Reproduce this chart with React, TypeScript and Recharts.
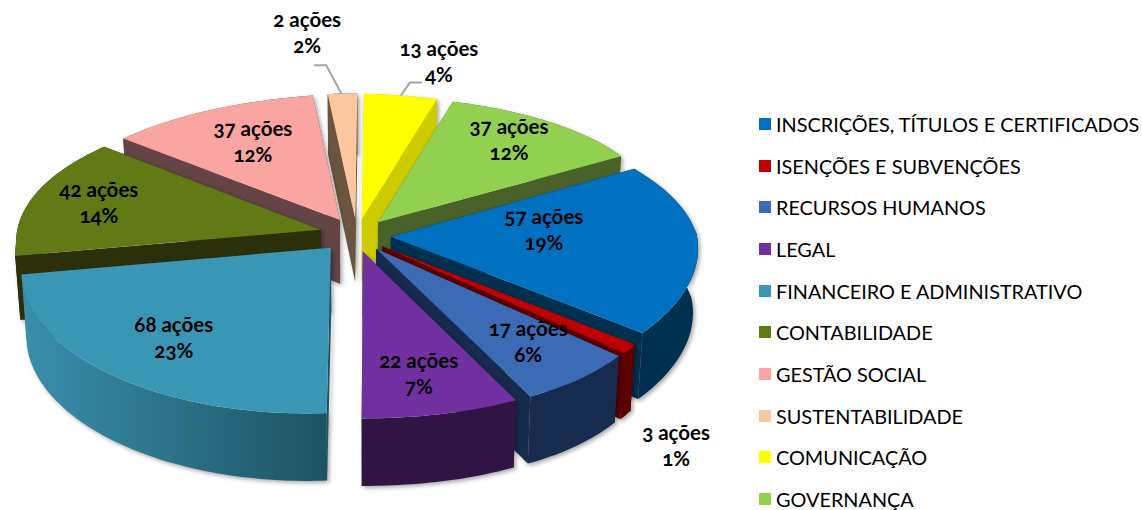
import { PieChart, Pie, Legend } from "recharts";

const categories = [
  "INSCRIÇÕES, TÍTULOS E CERTIFICADOS",
  "ISENÇÕES E SUBVENÇÕES",
  "RECURSOS HUMANOS",
  "LEGAL",
  "FINANCEIRO E ADMINISTRATIVO",
  "CONTABILIDADE",
  "GESTÃO SOCIAL",
  "SUSTENTABILIDADE",
  "COMUNICAÇÃO",
  "GOVERNANÇA",
];
const actions = [57, 3, 17, 22, 68, 42, 37, 2, 13, 37];
const percents = [19, 1, 6, 7, 23, 14, 12, 2, 4, 12];

const topColors = ["#0070c0", "#c00000", "#3c6bb6", "#7030a0", "#3a96b5", "#627a15", "#fba5a2", "#fcc79d", "#ffff00", "#92d050"];
const wallColors = ["#00304f", "#5c0000", "#172b4f", "#301443", "url(#finWall)", "#2b300a", "#644444", "#6b5540", "#cccc00", "#48622a"];
const edgeColors = ["#00304f", "#5c0000", "#172b4f", "#301443", "#1d5363", "#2b300a", "#644444", "#6b5540", "#cccc00", "#48622a"];

// walls are painted back to front
const wallOrder = [7, 8, 6, 9, 5, 0, 1, 2, 4, 3];

// label centre relative to the slice tip
const labelOffsets = [
  [153, -7], [294, 200], [152, 93], [56, 122], [-157, 90],
  [-222, -27], [-87, -78], [-48, -185], [77, -157], [131, -82],
];
// elbow lines for labels outside the pie
const leaders: Record<number, number[][]> = {
  7: [[-15, -28], [-27, -28]],
  8: [[9, -13], [21, -13]],
};

// horizontal rim correction by angle
const rimShift = [[0, 0], [28, -21], [72, -18], [88, -18], [95, -8], [136, 0]];

const data = categories.map((name, i) => ({
  name,
  value: percents[i],
  actions: actions[i],
  fill: topColors[i],
}));

const CX = 355;
const CY = 235;
const RADIUS = 305;
const EXPLODE = 36;
const TILT = 0.466;
const PERSP = 0.138;
const DEPTH = 64;
const RIM_LIFT = 4;
const START = 28.5;
const RAD = Math.PI / 180;
const FONT = "Lato, 'Noto Sans', sans-serif";

// the 3D view is not a clean ellipse: small corrections along the rim
function rimWarp(a: number) {
  const deg = ((a % 360) + 360) % 360;
  let dx = 0;
  let dy = 0;
  for (let i = 1; i < rimShift.length; i++) {
    const [a0, d0] = rimShift[i - 1];
    const [a1, d1] = rimShift[i];
    if (deg >= a0 && deg < a1) dx = d0 + ((d1 - d0) * (deg - a0)) / (a1 - a0);
  }
  if (deg > 270 && deg < 320) dx = 11 * Math.sin((deg - 270) * 3.6 * RAD);
  if (deg > 90 && deg < 270) dy = 13 * Math.sin((deg - 90) * RAD);
  return [dx, dy];
}

function project(cx: number, cy: number, r: number, a: number, mid: number, down = false) {
  const u = r * Math.cos(a * RAD) + EXPLODE * Math.cos(mid * RAD);
  const v = -(r * Math.sin(a * RAD) + EXPLODE * Math.sin(mid * RAD));
  const k = v / RADIUS;
  const s = 1 / (1 - PERSP * k);
  const sx = k > 0 ? 1 + 0.1 * k : 1 + 0.025 * k;
  const w = rimWarp(a);
  const t = r / RADIUS;
  const x = u * sx + w[0] * t;
  const y = v * TILT * s - RIM_LIFT * t + w[1] * t;
  if (!down) return [cx + x, cy + y];
  return [cx + x * 0.985, cy + y + DEPTH * (1 + 0.05 * k)];
}

function arcPoints(p: any, down: boolean) {
  const mid = (p.startAngle + p.endAngle) / 2;
  const n = Math.max(2, Math.ceil(Math.abs(p.startAngle - p.endAngle)));
  const pts: number[][] = [];
  for (let i = 0; i <= n; i++) {
    const a = p.startAngle + ((p.endAngle - p.startAngle) * i) / n;
    pts.push(project(p.cx, p.cy, p.outerRadius, a, mid, down));
  }
  return pts;
}

const toPath = (pts: number[][]) =>
  "M" + pts.map((q) => q[0].toFixed(1) + "," + q[1].toFixed(1)).join("L") + "Z";

function TopSlice(p: any) {
  const mid = (p.startAngle + p.endAngle) / 2;
  const apex = project(p.cx, p.cy, 0, 0, mid);
  return <path d={toPath([apex, ...arcPoints(p, false)])} fill={p.fill} />;
}

function WallSlice(p: any, k: number) {
  if (topColors.indexOf(p.fill) !== k) return <g />;
  const mid = (p.startAngle + p.endAngle) / 2;
  const apex = project(p.cx, p.cy, 0, 0, mid);
  const apexLow = project(p.cx, p.cy, 0, 0, mid, true);
  const top = arcPoints(p, false);
  const low = arcPoints(p, true);
  const edge = edgeColors[k];
  return (
    <g style={{ filter: "drop-shadow(2px 2px 2px rgba(0,0,0,0.35))" }}>
      <path d={toPath([apex, top[0], low[0], apexLow])} fill={edge} />
      <path d={toPath([apex, top[top.length - 1], low[low.length - 1], apexLow])} fill={edge} />
      <path d={toPath([...top, ...low.slice().reverse()])} fill={wallColors[k]} />
    </g>
  );
}

function SliceLabel(p: any) {
  const i = p.index;
  const mid = p.midAngle;
  const apex = project(p.cx, p.cy, 0, 0, mid);
  const x = apex[0] + labelOffsets[i][0];
  const y = apex[1] + labelOffsets[i][1];
  const rim = project(p.cx, p.cy, p.outerRadius, mid, mid);
  const elbows = leaders[i];
  const textStyle = { fontFamily: FONT, fontSize: 20.5, fontWeight: 700, fill: "#000", fontVariantNumeric: "oldstyle-nums" };
  return (
    <g>
      {elbows && (
        <polyline
          points={[rim, ...elbows.map((e) => [rim[0] + e[0], rim[1] + e[1]])].map((q) => q.join(",")).join(" ")}
          fill="none"
          stroke="#a6a6a6"
          strokeWidth={2}
        />
      )}
      <text x={x} y={y - 6} textAnchor="middle" style={textStyle}>
        {actions[i]} ações
      </text>
      <text x={x} y={y + 20} textAnchor="middle" style={textStyle}>
        {percents[i]}%
      </text>
    </g>
  );
}

function LegendList() {
  return (
    <div style={{ fontFamily: FONT, fontSize: 19.85, color: "#000" }}>
      {categories.map((c, i) => (
        <div key={c} style={{ height: 41.7, display: "flex", alignItems: "center", whiteSpace: "nowrap" }}>
          <span style={{ width: 12, height: 12, background: topColors[i], marginRight: 5 }} />
          {c}
        </div>
      ))}
    </div>
  );
}

export default function App() {
  return (
    <div style={{ position: "absolute", left: 0, top: 0, width: 1142, height: 510, overflow: "hidden" }}>
      <PieChart width={1142} height={510} margin={{ top: 0, right: 0, bottom: 0, left: 0 }}>
        <defs>
          <linearGradient id="finWall" x1="0" y1="0" x2="1" y2="0">
            <stop offset="0" stopColor="#3a8fad" />
            <stop offset="1" stopColor="#1d5363" />
          </linearGradient>
        </defs>
        {wallOrder.map((k) => (
          <Pie
            key={k}
            data={data}
            dataKey="value"
            nameKey="name"
            cx={CX}
            cy={CY}
            outerRadius={RADIUS}
            startAngle={START}
            endAngle={START - 360}
            stroke="none"
            legendType="none"
            isAnimationActive={false}
            shape={(p: any) => WallSlice(p, k)}
          />
        ))}
        <Pie
          data={data}
          dataKey="value"
          nameKey="name"
          cx={CX}
          cy={CY}
          outerRadius={RADIUS}
          startAngle={START}
          endAngle={START - 360}
          stroke="none"
          isAnimationActive={false}
          shape={TopSlice}
          label={SliceLabel}
          labelLine={false}
        />
        <Legend content={LegendList} wrapperStyle={{ position: "absolute", left: 759, top: 103, width: 383 }} />
      </PieChart>
    </div>
  );
}
